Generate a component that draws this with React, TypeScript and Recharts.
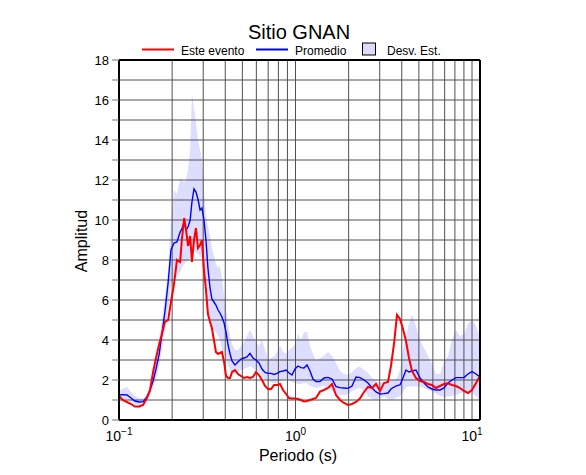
import React from 'react';
import { ComposedChart, Line, Area, XAxis, YAxis, ReferenceLine } from 'recharts';

const periods = [
  0.100,0.105,0.111,0.117,0.123,0.130,0.137,0.144,0.150,0.156,
  0.162,0.169,0.175,0.182,0.190,0.197,0.205,0.213,0.222,0.227,
  0.234,0.240,0.246,0.253,0.259,0.266,0.273,0.280,0.288,0.295,
  0.303,0.311,0.319,0.328,0.336,0.345,0.354,0.364,0.373,0.383,
  0.394,0.404,0.415,0.426,0.437,0.454,0.472,0.491,0.511,0.531,
  0.552,0.574,0.597,0.621,0.646,0.672,0.699,0.727,0.756,0.786,
  0.817,0.850,0.884,0.919,0.955,0.994,1.033,1.074,1.117,1.162,
  1.208,1.256,1.307,1.377,1.451,1.528,1.610,1.696,1.787,1.883,
  1.984,2.090,2.202,2.320,2.444,2.575,2.713,2.858,3.011,3.172,
  3.342,3.475,3.614,3.758,3.908,4.064,4.227,4.396,4.571,4.816,
  5.074,5.346,5.632,5.934,6.252,6.587,6.940,7.311,7.703,8.116,
  8.551,9.009,9.491,10.00,10.54,11.10,
];

const esteEvento = [
  1.2,1.0,0.9,0.8,0.67,0.68,0.75,1.1,1.5,2.4,
  3.1,3.8,4.3,4.9,5.0,5.9,6.8,8.0,7.9,9.0,
  10.1,9.5,8.7,9.2,7.9,9.0,9.6,8.6,8.75,9.0,
  7.5,6.5,5.3,4.9,4.6,4.0,3.4,3.3,3.35,3.4,
  2.9,2.2,2.1,2.1,2.4,2.5,2.3,2.2,2.1,2.15,
  2.1,2.15,2.4,2.25,2.0,1.7,1.55,1.55,1.75,1.75,
  1.8,1.5,1.3,1.1,1.08,1.08,1.05,1.0,0.93,0.95,
  1.0,1.05,1.1,1.42,1.5,1.6,1.8,1.25,1.0,0.85,
  0.75,0.8,0.9,1.08,1.4,1.65,1.6,1.8,1.45,1.85,
  1.9,2.7,3.8,5.25,5.05,4.55,3.95,3.1,2.45,2.1,
  1.95,1.9,1.8,1.75,1.6,1.7,1.8,1.83,1.75,1.7,
  1.6,1.45,1.35,1.5,1.85,2.2,
];

const promedio = [
  1.25,1.27,1.25,1.1,0.95,0.9,0.92,1.15,1.5,1.95,
  2.55,3.3,4.3,5.4,6.9,8.5,8.85,8.9,9.4,9.55,
  9.9,9.5,9.65,10.0,10.9,11.55,11.4,11.05,10.5,10.6,
  10.0,9.0,7.6,6.6,6.05,5.9,5.75,5.5,5.35,5.15,
  4.85,4.4,3.75,3.3,2.95,2.75,2.9,3.05,3.1,3.15,
  3.33,3.1,3.0,2.85,2.55,2.38,2.33,2.33,2.28,2.33,
  2.42,2.45,2.5,2.35,2.25,2.55,2.7,2.62,2.6,2.75,
  2.45,2.05,1.92,1.92,2.1,2.13,2.05,1.67,1.62,1.6,
  1.58,1.7,2.15,2.12,2.0,1.85,1.6,1.4,1.3,1.32,
  1.35,1.55,1.65,1.72,1.75,2.1,2.5,2.4,2.45,2.5,
  2.1,1.85,1.65,1.55,1.5,1.5,1.6,1.85,2.0,2.12,
  2.12,2.12,2.3,2.42,2.3,2.15,
];

const desvSup = [
  1.45,1.55,1.65,1.4,1.2,1.1,1.05,1.3,1.8,2.4,
  3.1,4.0,5.0,6.2,7.5,10.0,11.5,11.3,12.1,12.0,
  11.9,12.0,12.5,13.5,16.3,15.6,14.9,14.0,13.5,13.0,
  11.5,10.2,9.7,9.2,8.6,8.2,7.8,7.6,7.7,7.1,
  6.2,5.5,4.8,4.2,3.8,3.5,3.5,3.7,3.9,4.2,
  4.5,4.2,3.9,3.7,4.0,3.5,3.0,3.1,3.2,3.4,
  3.7,3.4,3.3,3.5,3.6,3.8,4.3,4.0,4.4,4.4,
  3.7,3.3,3.0,3.1,3.2,3.4,3.2,2.85,2.45,2.3,
  2.25,2.4,2.6,2.67,2.5,2.35,2.1,1.95,1.85,1.9,
  2.0,2.0,2.0,2.1,2.5,3.5,4.2,4.8,5.3,4.7,
  4.0,3.6,3.2,2.8,2.3,2.3,2.9,3.2,4.0,4.5,
  4.2,4.3,4.8,5.0,4.7,4.2,
];

const desvInf = [
  1.0,1.05,1.05,0.95,0.8,0.75,0.8,1.0,1.2,1.6,
  2.0,2.7,3.5,4.5,5.5,6.8,7.0,7.2,7.4,7.6,
  7.8,7.9,8.0,8.1,8.3,8.5,8.4,8.3,8.2,8.0,
  7.0,6.0,5.2,4.8,4.6,4.5,4.4,4.2,4.0,3.6,
  3.3,3.0,2.7,2.5,2.4,2.3,2.4,2.5,2.55,2.6,
  2.7,2.6,2.5,2.4,2.2,2.0,1.95,1.9,1.85,1.85,
  1.9,2.0,2.05,2.0,1.9,1.85,1.8,1.8,1.85,1.85,
  1.7,1.65,1.6,1.65,1.7,1.6,1.45,1.35,1.25,1.25,
  1.3,1.45,1.55,1.6,1.5,1.2,1.05,1.0,1.1,1.2,
  1.05,1.0,1.05,1.15,1.17,1.4,1.65,1.67,1.67,1.67,
  1.67,1.6,1.5,1.45,1.3,1.2,1.15,1.17,1.2,1.25,
  1.33,1.4,1.42,1.35,1.2,1.0,
];

const majorPeriods = [0.1, 1, 10];
const gridPeriods = [0.2, 0.3, 0.4, 0.5, 0.6, 0.7, 0.8, 0.9, 1, 2, 3, 4, 5, 6, 7, 8, 9, 10];
const ampTicks = [0, 1, 2, 3, 4, 5, 6, 7, 8, 9, 10, 11, 12, 13, 14, 15, 16, 17, 18];
const gridAmps = [1, 2, 3, 4, 5, 6, 7, 8, 9, 10, 11, 12, 13, 14, 15, 16, 17];

const rows = periods.map((p, i) => ({
  p,
  red: esteEvento[i],
  blue: promedio[i],
  band: [desvInf[i], desvSup[i]],
}));

const FONT = '"Liberation Sans", Arial, Helvetica, sans-serif';
const GRID = '#505050';

const LogTick = (props: any) => {
  const { x, y, payload } = props;
  const e = Math.round(Math.log10(payload.value));
  const sup = e < 0 ? '\u2212' + Math.abs(e) : String(e);
  return (
    <text x={x} y={y + 21} textAnchor="middle" fontSize={14} fill="#000" fontFamily={FONT}>
      <tspan>10</tspan>
      <tspan dy={-6} fontSize={10}>{sup}</tspan>
    </text>
  );
};

export default function App() {
  return (
    <div style={{ position: 'absolute', left: 0, top: 0, width: 586, height: 475, background: '#fff', fontFamily: FONT }}>
      <ComposedChart width={586} height={475} data={rows} margin={{ top: 50, right: 96, bottom: 0, left: 0 }}>
        <XAxis
          dataKey="p" type="number" scale="log" domain={[0.1, 11.1]} allowDataOverflow
          ticks={majorPeriods} interval={0} tick={<LogTick />} tickLine={false} tickSize={0} tickMargin={0}
          axisLine={{ stroke: '#000', strokeWidth: 2 }} height={55}
        />
        <XAxis
          xAxisId="top" orientation="top" dataKey="p" type="number" scale="log" domain={[0.1, 11.1]} allowDataOverflow
          ticks={gridPeriods} interval={0} tick={false} tickLine={{ stroke: '#777' }} tickSize={5}
          axisLine={{ stroke: '#000', strokeWidth: 2 }} height={10}
        />
        <YAxis
          type="number" domain={[0, 18]} ticks={ampTicks} interval={0}
          tickFormatter={(v: number) => (v % 2 === 0 ? String(v) : '')}
          tick={{ fill: '#000', fontSize: 13, fontFamily: FONT }} tickLine={{ stroke: '#777' }} tickSize={7} tickMargin={3}
          axisLine={{ stroke: '#000', strokeWidth: 2 }} width={119}
        />
        <YAxis
          yAxisId="right" orientation="right" type="number" domain={[0, 18]} ticks={ampTicks} interval={0}
          tick={false} tickLine={{ stroke: '#777' }} tickSize={4}
          axisLine={{ stroke: '#000', strokeWidth: 2 }} width={10}
        />
        <Area
          dataKey="band" type="linear" stroke="none" fill="#6464ff" fillOpacity={0.22}
          isAnimationActive={false} activeDot={false}
        />
        {gridPeriods.map((g) => (
          <ReferenceLine key={'gx' + g} x={g} stroke={GRID} strokeWidth={1} ifOverflow="hidden" />
        ))}
        {gridAmps.map((g) => (
          <ReferenceLine key={'gy' + g} y={g} stroke={GRID} strokeWidth={1} />
        ))}
        <Line dataKey="blue" type="linear" stroke="#0000ff" strokeWidth={1.4} dot={false} isAnimationActive={false} activeDot={false} />
        <Line dataKey="red" type="linear" stroke="#ff0000" strokeWidth={2} dot={false} isAnimationActive={false} activeDot={false} />
      </ComposedChart>
      <svg width={586} height={475} style={{ position: 'absolute', left: 0, top: 0, pointerEvents: 'none' }}>
        <text x={299} y={38.5} textAnchor="middle" fontSize={20} fill="#000" fontFamily={FONT}>Sitio GNAN</text>
        <line x1={142} x2={174} y1={49.5} y2={49.5} stroke="#ff0000" strokeWidth={2} />
        <text x={181} y={54.5} fontSize={12} fill="#000" fontFamily={FONT}>Este evento</text>
        <line x1={256} x2={288} y1={49.5} y2={49.5} stroke="#0000ff" strokeWidth={2} />
        <text x={295} y={54.5} fontSize={12} fill="#000" fontFamily={FONT}>Promedio</text>
        <rect x={362.5} y={43} width={13} height={12} fill="#dcdcfa" stroke="#000" strokeWidth={1} />
        <text x={387} y={54.5} fontSize={12} fill="#000" fontFamily={FONT}>Desv. Est.</text>
        <text x={298} y={461} textAnchor="middle" fontSize={16} fill="#000" fontFamily={FONT}>Periodo (s)</text>
        <text x={0} y={0} transform="translate(87,241) rotate(-90)" textAnchor="middle" fontSize={16} fill="#000" fontFamily={FONT}>Amplitud</text>
      </svg>
    </div>
  );
}
